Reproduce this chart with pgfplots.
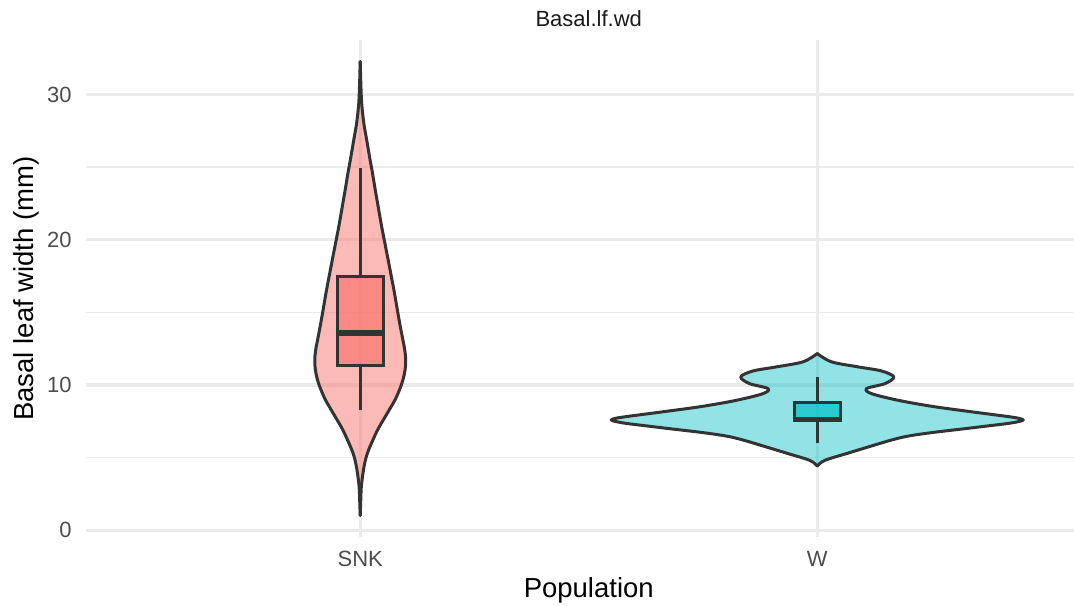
\documentclass[border=0pt]{standalone}
\usepackage{pgfplots}
\pgfplotsset{compat=1.18}
\usepackage{pgfplotstable}
\usepgfplotslibrary{fillbetween}
\usepackage{fontspec}
\setmainfont{Liberation Sans}
\definecolor{snk}{HTML}{F8766D}
\definecolor{wcol}{HTML}{00BFC4}
\definecolor{grey20}{HTML}{333333}
\definecolor{grey30}{HTML}{4D4D4D}
\definecolor{grey10}{HTML}{1A1A1A}
\definecolor{gridc}{HTML}{EBEBEB}

% violin half-widths (x units) against value
\pgfplotstableread{
y hw
1.03 0
2.0 0.0011
3.0 0.0024
3.9 0.0059
4.5 0.0090
5.05 0.0131
5.6 0.0192
6.2 0.0275
6.8 0.0362
7.35 0.0458
7.9 0.0562
8.49 0.0672
9.0 0.0765
9.64 0.0855
10.2 0.0920
10.8 0.0968
11.4 0.0993
12.0 0.0990
12.6 0.0965
13.1 0.0934
14.2 0.0867
15.4 0.0800
16.5 0.0740
17.7 0.0667
18.8 0.0600
20.0 0.0525
21.1 0.0458
22.3 0.0392
23.4 0.0331
24.6 0.0268
25.7 0.0205
26.9 0.0140
28.0 0.0080
29.2 0.0037
30.0 0.0022
31.0 0.0011
32.27 0
}\snkdata

\pgfplotstableread{
y hw
4.43 0
4.82 0.0168
5.32 0.0678
6.01 0.1400
6.25 0.1663
6.45 0.1926
6.62 0.2254
6.80 0.2691
7.00 0.3239
7.20 0.3764
7.35 0.4158
7.48 0.4398
7.60 0.4508
7.72 0.4398
7.82 0.4201
7.92 0.3961
8.22 0.3232
8.54 0.2501
8.95 0.1772
9.41 0.1188
9.76 0.1079
10.1 0.1481
10.56 0.1674
10.97 0.1407
11.25 0.0897
11.6 0.0313
12.17 0
}\wdata

\begin{document}
\begin{tikzpicture}
\begin{axis}[
  set layers,
  scale only axis,
  width=402.2pt, height=198.8pt,
  xmin=0.4, xmax=2.6, ymin=-0.46, ymax=33.76,
  clip=false,
  axis line style={draw=none},
  tick style={draw=none},
  major tick length=0pt,
  xtick={1,2}, xticklabels={SNK,W},
  ytick={0,10,20,30}, yticklabels={0,10,20,30},
  minor ytick={5,15,25},
  xmajorgrids, ymajorgrids, yminorgrids,
  major grid style={draw=gridc, line width=1.3pt},
  minor grid style={draw=gridc, line width=0.65pt},
  /pgf/number format/assume math mode=true,
  ticklabel style={font=\fontsize{8.8}{10}\selectfont, text=grey30, inner sep=0pt},
  xticklabel style={anchor=base, yshift=-12pt},
  yticklabel style={anchor=east, xshift=-5.6pt},
  outline/.style={smooth, tension=0.55, draw=grey20, line width=1.2pt, line join=round, line cap=round},
  boxline/.style={draw=grey20, line width=1.2pt, line join=miter},
]
% SNK violin
\addplot[outline, name path=snkR] table[x expr=1+\thisrow{hw}, y=y] {\snkdata};
\addplot[outline, name path=snkL] table[x expr=1-\thisrow{hw}, y=y] {\snkdata};
\addplot[fill=snk, fill opacity=0.5, draw=none] fill between[of=snkR and snkL];
% W violin
\addplot[outline, name path=wR] table[x expr=2+\thisrow{hw}, y=y] {\wdata};
\addplot[outline, name path=wL] table[x expr=2-\thisrow{hw}, y=y] {\wdata};
\addplot[fill=wcol, fill opacity=0.43, draw=none] fill between[of=wR and wL];
% SNK box: whiskers 8.31 / 24.95, quartiles 11.36 / 17.45, median 13.6
\addplot[boxline] coordinates {(1,17.45) (1,24.95)};
\addplot[boxline] coordinates {(1,8.31) (1,11.36)};
\addplot[boxline, fill=snk, fill opacity=0.7] coordinates {(0.95,11.36) (1.05,11.36) (1.05,17.45) (0.95,17.45)} -- cycle;
\addplot[draw=grey20, line width=2.2pt] coordinates {(0.95,13.6) (1.05,13.6)};
% W box: whiskers 6.01 / 10.56, quartiles 7.53 / 8.77, median 7.62
\addplot[boxline] coordinates {(2,8.77) (2,10.56)};
\addplot[boxline] coordinates {(2,6.01) (2,7.53)};
\addplot[boxline, fill=wcol, fill opacity=0.7] coordinates {(1.95,7.53) (2.05,7.53) (2.05,8.77) (1.95,8.77)} -- cycle;
\addplot[draw=grey20, line width=2.2pt] coordinates {(1.95,7.62) (2.05,7.62)};
\end{axis}
\node[anchor=base, font=\fontsize{8.8}{10}\selectfont, text=grey10] at (201.1pt,204pt) {Basal.lf.wd};
\node[anchor=base, font=\fontsize{11}{13}\selectfont, inner sep=0pt] at (201.1pt,-24.4pt) {Population};
\node[anchor=base, rotate=90, font=\fontsize{11}{13}\selectfont, inner sep=0pt] at (-21.2pt,99.4pt) {Basal leaf width (mm)};
\pgfresetboundingbox
\path[use as bounding box] (-34.4pt,-27.6pt) rectangle (395.2pt,214.8pt);
\end{tikzpicture}
\end{document}
